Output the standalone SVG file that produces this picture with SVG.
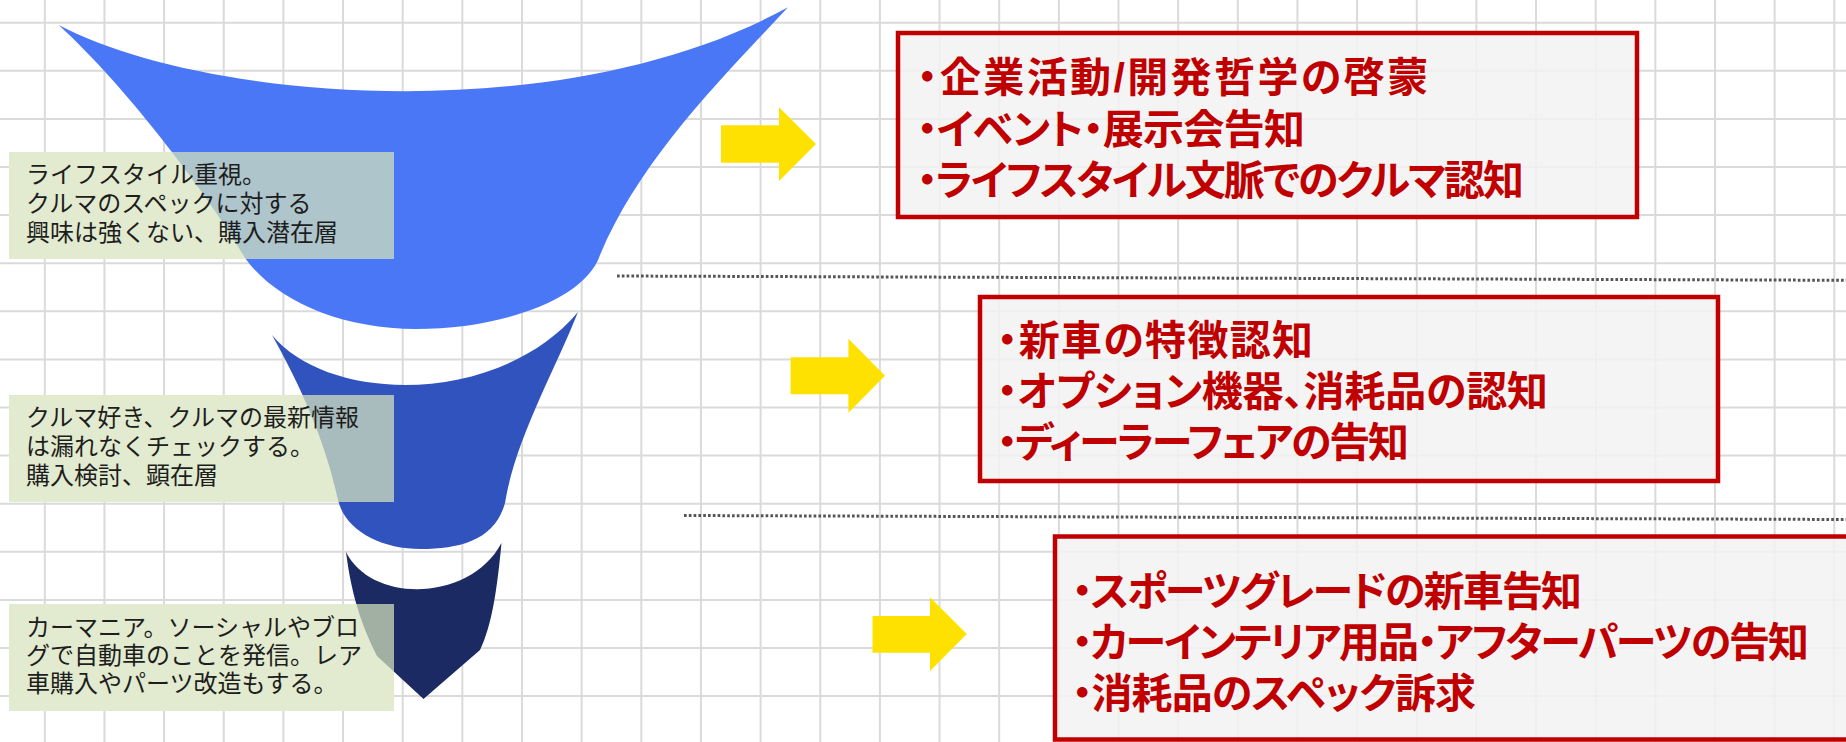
<svg xmlns="http://www.w3.org/2000/svg" width="1846" height="742" viewBox="0 0 1846 742">
<style>
.grid{stroke:#dadada;stroke-width:2;fill:none}
.note{fill:#d7e3bc;fill-opacity:0.72}
.under{fill:#ffffff}
.nt{font-family:"Liberation Sans","Noto Sans CJK JP",sans-serif;font-size:24px;fill:#1e1e1e}
.rbox{fill:#f2f2f2;fill-opacity:0.85;stroke:#c00000;stroke-width:4.5}
.rt{font-family:"Liberation Sans","Noto Sans CJK JP",sans-serif;font-size:41px;font-weight:700;fill:#c00000;font-feature-settings:"palt" 1}
.arrow{fill:#ffe100}
.sep{stroke:#555555;stroke-width:3;stroke-dasharray:2.7 2.1;fill:none}
</style>
<rect width="1846" height="742" fill="#ffffff"/>
<g id="grid">
<path class="grid" d="M44.8,0V742M104.45,0V742M164.1,0V742M223.75,0V742M283.4,0V742M343.05,0V742M402.7,0V742M462.35,0V742M522,0V742M581.65,0V742M641.3,0V742M700.95,0V742M760.6,0V742M820.25,0V742M879.9,0V742M939.55,0V742M999.2,0V742M1058.85,0V742M1118.5,0V742M1178.15,0V742M1237.8,0V742M1297.45,0V742M1357.1,0V742M1416.75,0V742M1476.4,0V742M1536.05,0V742M1595.7,0V742M1655.35,0V742M1715,0V742M1774.65,0V742M1834.3,0V742"/>
<path class="grid" d="M0,22.7H1846M0,70.8H1846M0,118.9H1846M0,167H1846M0,215.1H1846M0,263.2H1846M0,311.3H1846M0,359.4H1846M0,407.5H1846M0,455.6H1846M0,503.7H1846M0,551.8H1846M0,599.9H1846M0,648H1846M0,696.1H1846"/>
<rect class="under" x="9" y="152" width="385" height="107"/>
<rect class="under" x="9" y="395" width="385" height="107"/>
<rect class="under" x="9" y="604" width="385" height="107"/>
</g>
<g id="funnel-top">
<path fill="#4a77f5" d="M58.7,25 C200,100 560,132 788,7.3 C720,80 640,160 600,255 C585,300 500,329 416,329 C340,329 275,300 245,258 C215,205 130,90 58.7,25 Z"/>
</g>
<g id="funnel-middle">
<path fill="#3053be" d="M272,335 C330,405 500,405 578,312 C555,370 515,440 505,503 C495,540 460,549 421,549 C380,549 345,530 338,500 C325,440 300,385 272,335 Z"/>
</g>
<g id="funnel-bottom">
<path fill="#1b2a63" d="M346,552 C372,604 470,602 501.5,543 C497,590 492,625 480,650 L423.5,699 L377,656 C364,630 352,600 346,552 Z"/>
</g>
<g id="note-1">
<rect class="note" x="9" y="152" width="385" height="107"/>
<text class="nt"><tspan x="26" y="183.4">ライフスタイル重視。</tspan><tspan x="26" y="212.4">クルマのスペックに対する</tspan><tspan x="26" y="241.4">興味は強くない、購入潜在層</tspan></text>
</g>
<g id="note-2">
<rect class="note" x="9" y="395" width="385" height="107"/>
<text class="nt"><tspan x="26" y="425.8">クルマ好き、クルマの最新情報</tspan><tspan x="26" y="455.1">は漏れなくチェックする。</tspan><tspan x="26" y="484.1">購入検討、顕在層</tspan></text>
</g>
<g id="note-3">
<rect class="note" x="9" y="604" width="385" height="107"/>
<text class="nt"><tspan x="26" y="635.8">カーマニア。ソーシャルやブロ</tspan><tspan x="26" y="664.1">グで自動車のことを発信。レア</tspan><tspan x="26" y="692.4">車購入やパーツ改造もする。</tspan></text>
</g>
<g id="connectors">
<path class="sep" d="M617,276 L1846,280.3"/>
<path class="sep" d="M684,515.5 L1846,519.5"/>
<path class="arrow" d="M721,125.3 H779 V107.3 L816,144 L779,181 V162.7 H721 Z"/>
<path class="arrow" d="M790.6,357.3 H848.4 V338.7 L885,375.7 L848.4,412.7 V394.3 H790.6 Z"/>
<path class="arrow" d="M872.5,616 H930 V597.3 L966.8,634 L930,671 V652.7 H872.5 Z"/>
</g>
<g id="message-1">
<rect class="rbox" x="898" y="33" width="739" height="184"/>
<text class="rt"><tspan x="917" y="92" textLength="511" lengthAdjust="spacing">・企業活動/開発哲学の啓蒙</tspan><tspan x="917" y="143.5" textLength="388" lengthAdjust="spacing">・イベント・展示会告知</tspan><tspan x="917" y="195" textLength="607" lengthAdjust="spacing">・ライフスタイル文脈でのクルマ認知</tspan></text>
</g>
<g id="message-2">
<rect class="rbox" x="980" y="297" width="738" height="184"/>
<text class="rt"><tspan x="997" y="355.3" textLength="316" lengthAdjust="spacing">・新車の特徴認知</tspan><tspan x="997" y="406.4" textLength="551" lengthAdjust="spacing">・オプション機器、消耗品の認知</tspan><tspan x="997" y="457.3" textLength="412" lengthAdjust="spacing">・ディーラーフェアの告知</tspan></text>
</g>
<g id="message-3">
<rect class="rbox" x="1055" y="536.5" width="900" height="203"/>
<text class="rt"><tspan x="1072" y="606" textLength="510" lengthAdjust="spacing">・スポーツグレードの新車告知</tspan><tspan x="1072" y="657.3" textLength="737" lengthAdjust="spacing">・カーインテリア用品・アフターパーツの告知</tspan><tspan x="1072" y="708" textLength="404" lengthAdjust="spacing">・消耗品のスペック訴求</tspan></text>
</g>
</svg>
